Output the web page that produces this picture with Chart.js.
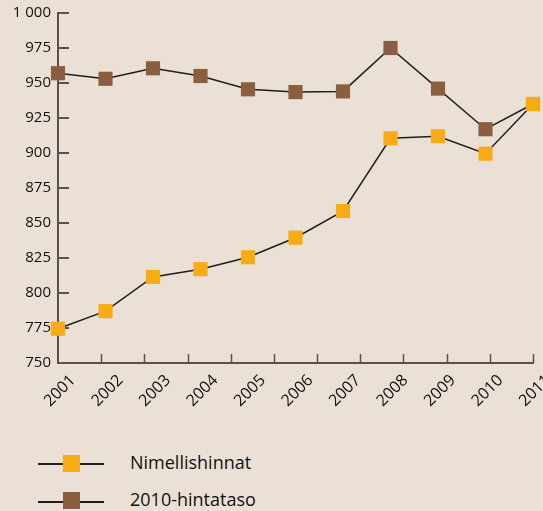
<!DOCTYPE html>
<html>
<head>
<meta charset="utf-8">
<script src="https://cdn.jsdelivr.net/npm/chart.js@4"></script>
<style>
  html, body { margin: 0; padding: 0; background: #EAE0D6; width: 543px; height: 511px; overflow: hidden; }
  #wrap { position: absolute; left: 0; top: 0; width: 543px; height: 430px; }
  .leg { position: absolute; font-family: "Open Sans", sans-serif; font-size: 18px; color: #111; }
  .ln { position: absolute; height: 1.5px; background: #1e1e1e; }
  .sq { position: absolute; width: 17px; height: 17px; }
</style>
</head>
<body>
<div id="wrap"><canvas id="c"></canvas></div>
<div class="ln" style="left:38px; top:463px; width:66px;"></div>
<div class="sq" id="sq1" style="left:63px; top:455px;"></div>
<div class="leg" id="t1" style="left:130px; top:450px;"></div>
<div class="ln" style="left:38px; top:501px; width:66px;"></div>
<div class="sq" id="sq2" style="left:63px; top:492px;"></div>
<div class="leg" id="t2" style="left:130px; top:487px;"></div>
<script>
const years = ["2001","2002","2003","2004","2005","2006","2007","2008","2009","2010","2011"];
const nominal = [774.5, 787, 811.5, 817, 825.5, 839.5, 858.5, 910.5, 912, 899.5, 935];
const real2010 = [957, 953, 960.5, 955, 945.5, 943.5, 944, 975, 946, 917, 935];
const yTicks = [750, 775, 800, 825, 850, 875, 900, 925, 950, 975, 1000];
const seriesNames = ["Nimellishinnat", "2010-hintataso"];
const seriesColors = ["#F7AB14", "#8A5E3E"];
const xTickCount = 12;

document.getElementById('sq1').style.background = seriesColors[0];
document.getElementById('sq2').style.background = seriesColors[1];
document.getElementById('t1').textContent = seriesNames[0];
document.getElementById('t2').textContent = seriesNames[1];

const axisColor = '#5a514a';

const innerTicks = {
  id: 'innerTicks',
  beforeDatasetsDraw(chart) {
    const ctx = chart.ctx;
    const y = chart.scales.y, xt = chart.scales.xt;
    const area = chart.chartArea;
    ctx.save();
    ctx.strokeStyle = axisColor;
    ctx.lineWidth = 2;
    yTicks.forEach(v => {
      const py = Math.round(y.getPixelForValue(v));
      ctx.beginPath();
      ctx.moveTo(area.left, py);
      ctx.lineTo(area.left + 11, py);
      ctx.stroke();
    });
    ctx.lineWidth = 1.5;
    for (let i = 1; i < xTickCount; i++) {
      const px = Math.round(xt.getPixelForValue(i)) + 0.5;
      ctx.beginPath();
      ctx.moveTo(px, area.bottom);
      ctx.lineTo(px, area.bottom - 9);
      ctx.stroke();
    }
    ctx.restore();
  }
};

Chart.defaults.font.family = '"Open Sans", sans-serif';
Chart.defaults.color = '#111';

new Chart(document.getElementById('c'), {
  type: 'line',
  data: {
    labels: years,
    datasets: [
      { label: seriesNames[0], data: nominal, backgroundColor: seriesColors[0], pointBackgroundColor: seriesColors[0] },
      { label: seriesNames[1], data: real2010, backgroundColor: seriesColors[1], pointBackgroundColor: seriesColors[1] }
    ].map(d => Object.assign(d, {
      borderColor: '#1e1e1e', borderWidth: 1.5, pointStyle: 'rect', pointRadius: 10,
      pointHoverRadius: 10, pointBorderWidth: 0, tension: 0, clip: false
    }))
  },
  options: {
    responsive: true,
    maintainAspectRatio: false,
    animation: false,
    layout: { padding: { left: 0, right: 8, top: 13, bottom: 0 } },
    plugins: { legend: { display: false }, tooltip: { enabled: false } },
    scales: {
      x: {
        type: 'category',
        offset: false,
        grid: { display: false, drawTicks: false },
        border: { display: true, color: axisColor, width: 2 },
        ticks: { minRotation: 45, maxRotation: 45, padding: 8, labelOffset: 15, font: { size: 16 }, color: '#111', autoSkip: false },
        afterFit: s => { s.height = 67; s.paddingLeft = 0; s.paddingRight = 0; }
      },
      xt: {
        type: 'linear', position: 'bottom', min: 0, max: xTickCount - 1,
        display: false
      },
      y: {
        min: 750, max: 1000,
        grid: { display: false, drawTicks: false },
        border: { display: true, color: axisColor, width: 2 },
        ticks: {
          stepSize: 25, padding: 7, font: { size: 15 }, color: '#111',
          callback: v => v >= 1000 ? String(v).replace(/(\d)(\d{3})$/, '$1 $2') : String(v)
        },
        afterFit: s => { s.width = 58; s.paddingTop = 0; s.paddingBottom = 0; }
      }
    }
  },
  plugins: [innerTicks]
});
</script>
</body>
</html>
